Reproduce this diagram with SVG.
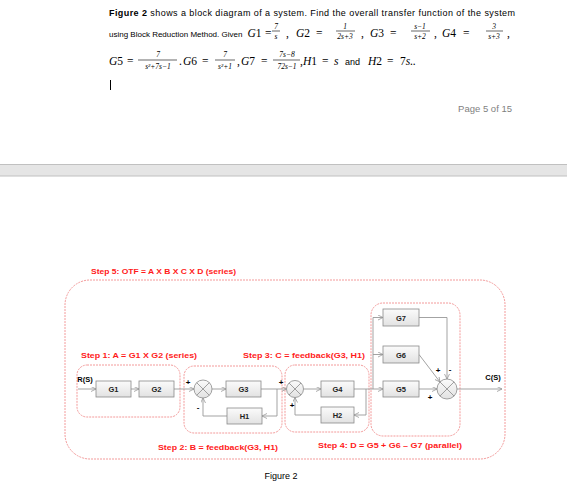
<svg xmlns="http://www.w3.org/2000/svg" width="567" height="493" viewBox="0 0 567 493">
<style>
.t{font-family:"Liberation Sans",Arial,sans-serif;font-size:9px;fill:#000}
.m{font-family:"Liberation Serif","DejaVu Serif",serif;font-style:italic;font-size:11.5px;fill:#000}
.m tspan{font-style:normal}
.mr{font-family:"Liberation Serif","DejaVu Serif",serif;font-size:11.5px;fill:#000}
.f{font-family:"Liberation Serif","DejaVu Serif",serif;font-style:italic;font-size:7.5px;fill:#000;text-anchor:middle}
.fl{stroke:#000;stroke-width:0.6}
.step{font-family:"Liberation Sans",Arial,sans-serif;font-weight:bold;font-size:8px;fill:#ff1a1a}
.grp{fill:none;stroke:#f39a9a;stroke-width:1;stroke-dasharray:2 1}
.blk rect{fill:url(#bg);stroke:#8a8a8a;stroke-width:0.8}
.blk text{font-family:"Liberation Sans",Arial,sans-serif;font-weight:bold;font-size:7.5px;fill:#222;text-anchor:middle}
.sum circle{fill:url(#bg);stroke:#8a8a8a;stroke-width:0.8}
.sum path{stroke:#8a8a8a;stroke-width:0.8}
.sg{font-family:"Liberation Sans",Arial,sans-serif;font-weight:bold;font-size:8px;fill:#000;text-anchor:middle}
#conn path{fill:none;stroke:#999;stroke-width:0.9}
</style>
<defs>
<linearGradient id="bg" x1="0" y1="0" x2="0" y2="1">
<stop offset="0" stop-color="#fbfbfb"/>
<stop offset="1" stop-color="#e2e2e2"/>
</linearGradient>
<marker id="ar" markerWidth="6" markerHeight="6" refX="5" refY="2.5" orient="auto" markerUnits="userSpaceOnUse">
<path d="M0,0 L5,2.5 L0,5" fill="none" stroke="#999" stroke-width="0.8"/>
</marker>
</defs>
<rect width="567" height="493" fill="#fff"/>

<!-- Problem text -->
<text class="t" x="109" y="16" textLength="406" lengthAdjust="spacing"><tspan font-weight="bold">Figure 2</tspan> shows a block diagram of a system. Find the overall transfer function of the system</text>
<text class="t" x="109" y="37" style="font-size:8px">using Block Reduction Method. Given</text>

<text class="m" x="247.5" y="37">G<tspan>1</tspan></text><text class="mr" x="265" y="37">=</text>
<text class="f" x="276" y="29">7</text><line class="fl" x1="272" y1="31" x2="280" y2="31"/><text class="f" x="276" y="39">s</text>
<text class="mr" x="286" y="37">,</text>
<text class="m" x="296" y="37">G<tspan>2</tspan></text><text class="mr" x="316" y="37">=</text>
<text class="f" x="345" y="29">1</text><line class="fl" x1="336" y1="31" x2="355" y2="31"/><text class="f" x="345" y="39">2s+3</text>
<text class="mr" x="361" y="37">,</text>
<text class="m" x="370" y="37">G<tspan>3</tspan></text><text class="mr" x="390" y="37">=</text>
<text class="f" x="420" y="29">s−1</text><line class="fl" x1="411" y1="31" x2="430" y2="31"/><text class="f" x="420" y="39">s+2</text>
<text class="mr" x="434" y="37">,</text>
<text class="m" x="442" y="37">G<tspan>4</tspan></text><text class="mr" x="463" y="37">=</text>
<text class="f" x="494" y="29">3</text><line class="fl" x1="486" y1="31" x2="503" y2="31"/><text class="f" x="494" y="39">s+3</text>
<text class="mr" x="507" y="37">,</text>

<text class="m" x="109" y="65">G<tspan>5</tspan></text><text class="mr" x="127" y="65">=</text>
<text class="f" x="158" y="57">7</text><line class="fl" x1="138" y1="60" x2="177" y2="60"/><text class="f" x="158" y="69">s²+7s−1</text>
<text class="mr" x="179" y="65">.</text>
<text class="m" x="183" y="65">G<tspan>6</tspan></text><text class="mr" x="202" y="65">=</text>
<text class="f" x="225" y="57">7</text><line class="fl" x1="215" y1="60" x2="235" y2="60"/><text class="f" x="225" y="69">s²+1</text>
<text class="mr" x="237" y="65">,</text>
<text class="m" x="241" y="65">G<tspan>7</tspan></text><text class="mr" x="261" y="65">=</text>
<text class="f" x="287" y="57">7s−8</text><line class="fl" x1="273" y1="60" x2="300" y2="60"/><text class="f" x="287" y="69">72s−1</text>
<text class="mr" x="300" y="65">,</text>
<text class="m" x="303" y="65">H<tspan>1</tspan></text><text class="mr" x="322" y="65">=</text><text class="m" x="334" y="65">s</text>
<text class="t" x="345" y="65" font-size="10">and</text>
<text class="m" x="368" y="65">H<tspan>2</tspan></text><text class="mr" x="387" y="65">=</text><text class="m" x="400" y="65"><tspan>7</tspan>s..</text>

<line x1="110.5" y1="80" x2="110.5" y2="90" stroke="#000" stroke-width="1"/>

<text class="t" x="512" y="112" text-anchor="end" style="fill:#7f7f7f;font-size:9.5px">Page 5 of 15</text>

<rect x="-1" y="164.5" width="569" height="11.5" fill="#e5e5e5" stroke="#c0c0c0" stroke-width="1"/>

<!-- Group outlines -->
<g id="groups">
<rect class="grp" x="65" y="280" width="440" height="179" rx="25"/>
<rect class="grp" x="77" y="365" width="103" height="52" rx="10"/>
<rect class="grp" x="184" y="366" width="98" height="67" rx="10"/>
<rect class="grp" x="285" y="365" width="84" height="67" rx="10"/>
<rect class="grp" x="371" y="303" width="89" height="133" rx="12"/>
</g>

<g id="labels">
<text class="step" x="91" y="274" textLength="145" lengthAdjust="spacingAndGlyphs">Step 5: OTF = A X B X C X D (series)</text>
<text class="step" x="81" y="358" textLength="116" lengthAdjust="spacingAndGlyphs">Step 1: A = G1 X G2 (series)</text>
<text class="step" x="243" y="358" textLength="122" lengthAdjust="spacingAndGlyphs">Step 3: C = feedback(G3, H1)</text>
<text class="step" x="158" y="450" textLength="120" lengthAdjust="spacingAndGlyphs">Step 2: B = feedback(G3, H1)</text>
<text class="step" x="318" y="448" textLength="144" lengthAdjust="spacingAndGlyphs">Step 4: D = G5 + G6 – G7 (parallel)</text>
<text class="sg" x="85" y="382" style="font-size:7.5px">R(S)</text>
<text class="sg" x="493" y="380" style="font-size:7.5px">C(S)</text>
</g>

<!-- Connectors -->
<g id="conn">
<path d="M78,389 H96" marker-end="url(#ar)"/>
<path d="M131,389 H139" marker-end="url(#ar)"/>
<path d="M174,389 H194" marker-end="url(#ar)"/>
<path d="M212,389 H226" marker-end="url(#ar)"/>
<path d="M261,389 H286.5" marker-end="url(#ar)"/>
<path d="M277,389 V416 H262" marker-end="url(#ar)"/>
<path d="M227,416 H203 V398" marker-end="url(#ar)"/>
<path d="M303.5,389 H321" marker-end="url(#ar)"/>
<path d="M354,389 H383" marker-end="url(#ar)"/>
<path d="M366,389 V415 H354" marker-end="url(#ar)"/>
<path d="M321,415 H295 V397.5" marker-end="url(#ar)"/>
<path d="M373,389 V317.5 H383" marker-end="url(#ar)"/>
<path d="M373,354.5 H383" marker-end="url(#ar)"/>
<path d="M419,317.5 H447 V379" marker-end="url(#ar)"/>
<path d="M419,354.5 L440,382" marker-end="url(#ar)"/>
<path d="M419,389 H437" marker-end="url(#ar)"/>
<path d="M457,389 H502" marker-end="url(#ar)"/>
</g>

<!-- Blocks -->
<g id="G1" class="blk"><rect x="96" y="381" width="35" height="16"/><text x="113.5" y="392">G1</text></g>
<g id="G2" class="blk"><rect x="139" y="381" width="35" height="16"/><text x="156.5" y="392">G2</text></g>
<g id="G3" class="blk"><rect x="226" y="381" width="35" height="16"/><text x="243.5" y="392">G3</text></g>
<g id="H1" class="blk"><rect x="227" y="408" width="35" height="16"/><text x="244.5" y="419">H1</text></g>
<g id="G4" class="blk"><rect x="321" y="381" width="33" height="16"/><text x="337.5" y="392">G4</text></g>
<g id="H2" class="blk"><rect x="321" y="407" width="33" height="16"/><text x="337.5" y="418">H2</text></g>
<g id="G7" class="blk"><rect x="383" y="309" width="36" height="17"/><text x="401" y="320.5">G7</text></g>
<g id="G6" class="blk"><rect x="383" y="346" width="36" height="17"/><text x="401" y="357.5">G6</text></g>
<g id="G5" class="blk"><rect x="383" y="381" width="36" height="16"/><text x="401" y="392">G5</text></g>

<!-- Summing junctions -->
<g id="S1" class="sum"><circle cx="203" cy="389" r="9"/><path d="M196.6,382.6 L209.4,395.4 M209.4,382.6 L196.6,395.4"/></g>
<g id="S2" class="sum"><circle cx="295" cy="389" r="8.5"/><path d="M289,383 L301,395 M301,383 L289,395"/></g>
<g id="S3" class="sum"><circle cx="447" cy="389" r="10"/><path d="M439.9,381.9 L454.1,396.1 M454.1,381.9 L439.9,396.1"/></g>

<g id="signs">
<text class="sg" x="188" y="385">+</text>
<text class="sg" x="198" y="410">-</text>
<text class="sg" x="281" y="385">+</text>
<text class="sg" x="292" y="408">+</text>
<text class="sg" x="438" y="373">+</text>
<text class="sg" x="450" y="372">-</text>
<text class="sg" x="430" y="400">+</text>
</g>

<text class="t" x="281" y="479" text-anchor="middle">Figure 2</text>
</svg>
